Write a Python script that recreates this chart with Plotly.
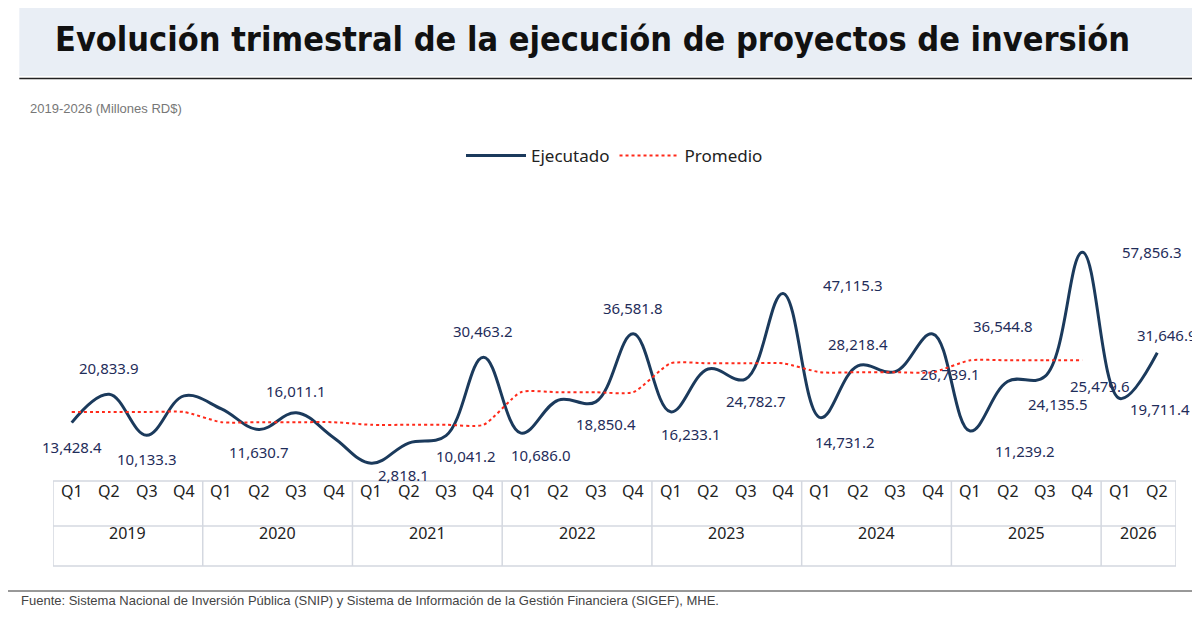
import plotly.graph_objects as go

# data
years = ["2019", "2020", "2021", "2022", "2023", "2024", "2025", "2026"]
quarters = ["Q1", "Q2", "Q3", "Q4"] * 7 + ["Q1", "Q2"]
ejecutado = [13428.4, 20833.9, 10133.3, 20400.0,
             17000.0, 11630.7, 16011.1, 9500.0,
             2818.1, 8100.0, 10041.2, 30463.2,
             10686.0, 19300.0, 18850.4, 36581.8,
             16233.1, 27400.0, 24782.7, 47115.3,
             14731.2, 28218.4, 26739.1, 36544.8,
             11239.2, 24135.5, 25479.6, 57856.3,
             19711.4, 31646.9]
labeled = [True, True, True, False, False, True, True, False,
           True, False, True, True, True, False, True, True,
           True, False, True, True, True, True, True, True,
           True, True, True, True, True, True]

xs = list(range(len(ejecutado)))
# promedio anual (2019-2025)
promedio = []
for i in range(28):
    yr = i // 4
    promedio.append(sum(ejecutado[yr * 4:yr * 4 + 4]) / 4)

# label offsets (px)
offs = [(0, -24), (0, 26), (0, -24), None, None, (0, -22), (0, 22), None,
        (32, -12), None, (20, -20), (0, 26), (20, -22), None, (10, -22), (0, 26),
        (20, -22), None, (10, -22), (70, 8), (25, -24), (0, 22), (55, -2), (70, 8),
        (55, -20), (50, -22), (55, -10), (70, 0), (40, -10), (10, 18)]

fig = go.Figure()
fig.add_trace(go.Scatter(x=xs, y=ejecutado, mode="lines", name="Ejecutado",
                         line=dict(color="#1b3a5c", width=3, shape="spline", smoothing=1.1)))
fig.add_trace(go.Scatter(x=xs[:28], y=promedio, mode="lines", name="Promedio",
                         line=dict(color="#ff2a1a", width=2, dash="dot", shape="spline", smoothing=0.6)))

for i, v in enumerate(ejecutado):
    if not labeled[i]:
        continue
    dx, dy = offs[i]
    fig.add_annotation(x=i, y=v, text="{:,.1f}".format(v), showarrow=False,
                       xshift=dx, yshift=dy, font=dict(size=15, color="#1f2d5a"))

# table under the axis
lc = "#d4d8e0"
fig.add_shape(type="rect", xref="x", yref="paper", x0=-0.5, x1=29.5, y0=-0.34, y1=0.0,
              line=dict(color=lc, width=1.5))
fig.add_shape(type="line", xref="x", yref="paper", x0=-0.5, x1=29.5, y0=-0.18, y1=-0.18,
              line=dict(color=lc, width=1.5))
for b in range(1, 8):
    fig.add_shape(type="line", xref="x", yref="paper", x0=b * 4 - 0.5, x1=b * 4 - 0.5,
                  y0=-0.34, y1=0.0, line=dict(color=lc, width=1.5))
for i, q in enumerate(quarters):
    fig.add_annotation(x=i, y=-0.09, xref="x", yref="paper", text=q, showarrow=False,
                       font=dict(size=16, color="#222"))
for j, yr in enumerate(years):
    cx = j * 4 + 1.5 if j < 7 else 28.5
    fig.add_annotation(x=cx, y=-0.26, xref="x", yref="paper", text=yr, showarrow=False,
                       font=dict(size=16, color="#222"))

# header
fig.add_shape(type="rect", xref="paper", yref="paper", x0=-0.03, x1=1.03, y0=1.62, y1=2.0,
              fillcolor="#e9eef5", line=dict(width=0), layer="below")
fig.add_shape(type="line", xref="paper", yref="paper", x0=-0.03, x1=1.03, y0=1.61, y1=1.61,
              line=dict(color="#222", width=1.5))
fig.add_annotation(x=0.0, y=1.77, xref="paper", yref="paper", xanchor="left", yanchor="middle",
                   text="<b>Evolución trimestral de la ejecución de proyectos de inversión</b>",
                   showarrow=False, font=dict(family="DejaVu Sans Condensed", size=34, color="#111"))
fig.add_annotation(x=-0.022, y=1.53, xref="paper", yref="paper", xanchor="left",
                   text="2019-2026 (Millones RD$)", showarrow=False,
                   font=dict(family="Liberation Sans", size=13, color="#777"))
fig.add_shape(type="line", xref="paper", yref="paper", x0=-0.05, x1=1.03, y0=-0.44, y1=-0.44,
              line=dict(color="#333", width=1))
fig.add_annotation(x=-0.03, y=-0.515, xref="paper", yref="paper", xanchor="left",
                   text="Fuente: Sistema Nacional de Inversión Pública (SNIP) y Sistema de Información de la Gestión Financiera (SIGEF), MHE.",
                   showarrow=False, font=dict(family="Liberation Sans", size=13, color="#444"))

fig.update_layout(
    width=1200, height=636, paper_bgcolor="white", plot_bgcolor="white",
    margin=dict(l=45, r=32, t=223, b=163),
    font=dict(family="Noto Sans", color="#222"),
    showlegend=True,
    legend=dict(orientation="h", x=0.5, xanchor="center", y=1.3, yanchor="middle",
                font=dict(size=17), itemwidth=60, tracegroupgap=40),
    xaxis=dict(range=[-0.5, 29.5], showticklabels=False, showgrid=False, zeroline=False),
    yaxis=dict(range=[-1800, 63400], visible=False),
)
fig.write_html("out.html")
